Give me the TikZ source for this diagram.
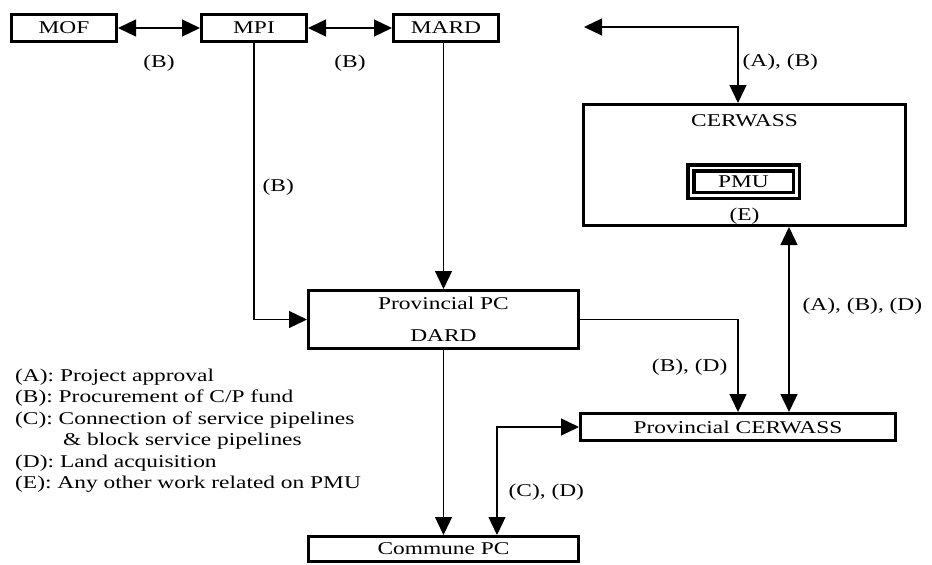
\documentclass[tikz,border=0pt]{standalone}
\usepackage{fontspec}
\setmainfont{Liberation Serif}[FakeStretch=1.3]
\usetikzlibrary{positioning,arrows.meta}
\tikzset{>={Triangle[width=17pt,length=18pt]}}

\begin{document}
\begin{tikzpicture}[
x = 1pt, y = -1pt,
font = \fontsize{18}{21.5}\selectfont,
box/.style = {draw, line width=3pt, inner sep=0pt,
              minimum width=#1, minimum height=27pt,
              align=center},
box/.default = 105pt,
link/.style = {line width=1.3pt},
lbl/.style = {inner sep=2pt},
node distance = 82pt,
]
\useasboundingbox (0,0) rectangle (932,565);
        % top row
        \node (mof)  [box] at (64,28) {MOF};
        \node (mpi)  [box, right=of mof] {MPI};
        \node (mard) [box, right=84pt of mpi] {MARD};
        % CERWASS with PMU
        \node (cer)  [box=322pt, minimum height=121pt] at (744.5,165) {};
        \node (cername) at (744.5,121) {CERWASS};
        \node (pmu)  [draw, line width=3.5pt, double, double distance=2.5pt,
                      minimum width=105.5pt, minimum height=27.5pt,
                      inner sep=0pt] at (743.5,181.5) {PMU};
        \node (pmue) at (744.5,216) {(E)};
        % provincial level
        \node (ppc)  [box=270pt, minimum height=58pt] at (443.5,319.5)
                     {Provincial PC\\[10pt]DARD};
        \node (pcer) [box=315pt] at (738,427) {Provincial CERWASS};
        \node (cpc)  [box=270pt, minimum height=25pt] at (443.5,549) {Commune PC};
        % legend
        \node (legend) [anchor=north west, inner sep=0pt, align=left] at (15,368.5)
                     {(A): Project approval\\
                      (B): Procurement of C/P fund\\
                      (C): Connection of service pipelines\\
                      \hspace*{48pt}\& block service pipelines\\
                      (D): Land acquisition\\
                      (E): Any other work related on PMU};
        % connectors
        \draw[link, <->] (mof) -- node (lbmof) [lbl, below=24pt] {(B)} (mpi);
        \draw[link, <->] (mpi) -- node (lbmard) [lbl, below=24pt] {(B)} (mard);
        \draw[link, ->] (mpi) |- node (lbppc) [lbl, right=6pt, pos=0.26] {(B)} (ppc);
        \draw[link, ->] (ppc.north |- mard.south) -- (ppc.north);
        \draw[link, ->] (ppc) -- (cpc);
        \draw[link, ->] (ppc) -| node (lbpcer) [lbl, left=8pt, pos=0.76] {(B), (D)} (pcer);
        \draw[link, <->] ([xshift=44.5pt]cer.south) --
                     node (lbcer) [lbl, right=11pt, pos=0.43] {(A), (B), (D)}
                     ([xshift=44.5pt]cer.south |- pcer.north);
        \coordinate (cerin) at (584,27);
        \draw[link, <->] (cerin) -| node (lbcerin) [lbl, right=2pt, pos=0.73] {(A), (B)}
                     ([xshift=-6.5pt]cer.north);
        \draw[link, <->] (pcer) -| node (lbcpc) [lbl, right=9pt, pos=0.8] {(C), (D)}
                     ([xshift=53.5pt]cpc.north);
\end{tikzpicture}
\end{document}
